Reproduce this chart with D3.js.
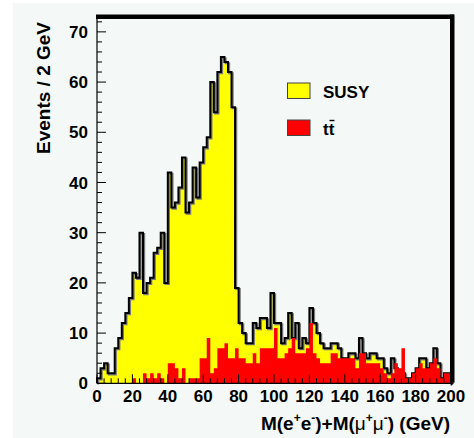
<!DOCTYPE html>
<html>
<head>
<meta charset="utf-8">
<script src="https://cdn.jsdelivr.net/npm/d3@7"></script>
<style>
  html, body { margin: 0; padding: 0; background: #ffffff; }
  svg { display: block; }
  text { font-family: "Liberation Sans", Arial, sans-serif; font-weight: bold; fill: #000; }
</style>
</head>
<body>
<svg id="chart" width="474" height="438"></svg>
<script>
// Dilepton invariant mass, 2 GeV bins from 0 to 200 GeV
const binWidth = 2;
const susyCounts = [
  1, 3, 4, 2, 2, 7, 9, 12, 14, 17,
  22, 21, 30, 18, 20, 21, 26, 27, 30, 20,
  42, 35, 36, 39, 45, 34, 36, 43, 37, 44,
  47, 49, 60, 54, 62, 65, 64, 62, 55, 19,
  12, 10, 8, 8, 12, 11, 13, 13, 11, 18,
  12, 12, 8, 9, 14, 9, 12, 7, 9, 8,
  15, 12, 10, 8, 7, 7, 8, 8, 7, 5,
  5, 6, 6, 5, 9, 6, 5, 6, 6, 5,
  5, 3, 2, 5, 3, 2, 2, 1, 1, 2,
  3, 5, 5, 3, 4, 7, 4, 1, 2, 2
];
const ttbarCounts = [
  0, 0, 0, 0, 0, 0, 0, 0, 0, 0,
  1, 0, 0, 2, 1, 2, 1, 2, 1, 0,
  4, 4, 3, 1, 3, 0, 1, 1, 1, 5,
  5, 9, 2, 3, 7, 7, 8, 5, 5, 7,
  5, 5, 4, 4, 6, 4, 7, 7, 7, 7,
  11, 5, 5, 6, 7, 9, 6, 6, 6, 7,
  12, 6, 5, 4, 4, 4, 6, 6, 5, 5,
  5, 5, 5, 3, 6, 6, 4, 4, 4, 4,
  3, 2, 1, 2, 4, 3, 7, 1, 1, 2,
  3, 4, 3, 3, 4, 5, 3, 1, 2, 2
];
const xTicks = [0, 20, 40, 60, 80, 100, 120, 140, 160, 180, 200];
const yTicks = [0, 10, 20, 30, 40, 50, 60, 70];
const legendLabels = ["SUSY", "tt"];

const svg = d3.select("#chart");
const x = d3.scaleLinear().domain([0, 200]).range([97, 451]);
const y = d3.scaleLinear().domain([0, 73]).range([383.3, 16.8]);

// canvas fill
svg.append("rect").attr("x", 13).attr("y", 3).attr("width", 461).attr("height", 435)
  .attr("fill", "#f4f9f7");

// step outline points for a histogram
function steps(counts) {
  const pts = [[0, 0]];
  counts.forEach((v, i) => { pts.push([i * binWidth, v]); pts.push([(i + 1) * binWidth, v]); });
  pts.push([counts.length * binWidth, 0]);
  return pts;
}
const area = d3.area().x(d => x(d[0])).y0(y(0)).y1(d => y(d[1]));
const line = d3.line().x(d => x(d[0])).y(d => y(d[1]));

const susyPts = steps(susyCounts);
const ttPts = steps(ttbarCounts);

svg.append("path").attr("d", area(susyPts)).attr("fill", "#ffff00");
svg.append("path").attr("d", line(susyPts)).attr("fill", "none")
  .attr("stroke", "#7a7a7a").attr("stroke-width", 2).attr("transform", "translate(1.2,1.2)");
svg.append("path").attr("d", line(susyPts)).attr("fill", "none")
  .attr("stroke", "#000").attr("stroke-width", 2);
svg.append("path").attr("d", area(ttPts)).attr("fill", "#ff0000");

// axes, ticks drawn inward
const gx = svg.append("g").attr("transform", `translate(0,${y(0)})`);
gx.append("line").attr("x1", x(0)).attr("x2", x(200)).attr("stroke", "#000").attr("stroke-width", 1.2);
gx.selectAll("line.tick").data(d3.range(0, 201, 4)).join("line")
  .attr("x1", d => x(d)).attr("x2", d => x(d))
  .attr("y1", 0).attr("y2", d => d % 20 === 0 ? -9 : -5)
  .attr("stroke", "#000").attr("stroke-width", 1);
gx.selectAll("text").data(xTicks).join("text")
  .attr("x", d => x(d)).attr("y", 18.5).attr("text-anchor", "middle")
  .attr("font-size", 17).text(d => d);

const gy = svg.append("g").attr("transform", `translate(${x(0)},0)`);
gy.append("line").attr("y1", y(0)).attr("y2", 15).attr("stroke", "#000").attr("stroke-width", 1.2);
gy.selectAll("line.tick").data(d3.range(0, 73, 2)).join("line")
  .attr("y1", d => y(d)).attr("y2", d => y(d))
  .attr("x1", 0).attr("x2", d => d % 10 === 0 ? 9 : 5)
  .attr("stroke", "#000").attr("stroke-width", 1);
gy.selectAll("text").data(yTicks).join("text")
  .attr("x", -9).attr("y", d => y(d)).attr("dy", "0.36em").attr("text-anchor", "end")
  .attr("font-size", 17).text(d => d);

// frame: thick top and right edges
svg.append("rect").attr("x", 96).attr("y", 14.5).attr("width", 358).attr("height", 4.5).attr("fill", "#000");
svg.append("rect").attr("x", 450).attr("y", 14.5).attr("width", 4.5).attr("height", 368).attr("fill", "#000");
svg.append("path").attr("d", "M450,382.5 L454.5,382.5 L451,386 Z").attr("fill", "#000");

// axis titles
svg.append("text").attr("transform", "translate(50,22) rotate(-90)")
  .attr("text-anchor", "end").attr("font-size", 19).text("Events / 2 GeV");

const xt = svg.append("text").attr("x", 450).attr("y", 430).attr("text-anchor", "end").attr("font-size", 19);
xt.append("tspan").text("M(e");
xt.append("tspan").attr("font-size", 12).attr("dy", -8).text("+");
xt.append("tspan").attr("dy", 8).text("e");
xt.append("tspan").attr("font-size", 12).attr("dy", -8).text("-");
xt.append("tspan").attr("dy", 8).text(")+M(");
xt.append("tspan").attr("font-weight", "normal").text("μ");
xt.append("tspan").attr("font-size", 12).attr("dy", -8).text("+");
xt.append("tspan").attr("dy", 8).attr("font-weight", "normal").text("μ");
xt.append("tspan").attr("font-size", 12).attr("dy", -8).text("-");
xt.append("tspan").attr("dy", 8).text(") (GeV)");

// legend
const legendColors = ["#ffff00", "#ff0000"];
const lg = svg.append("g");
legendLabels.forEach((lab, i) => {
  const ly = 83 + i * 37;
  lg.append("rect").attr("x", 287.5).attr("y", ly).attr("width", 22.5).attr("height", 15.5)
    .attr("fill", legendColors[i]).attr("stroke", "#444").attr("stroke-width", 1);
  const t = lg.append("text").attr("x", 323).attr("y", ly + 15).attr("font-size", 17);
  t.text(lab);
  if (i === 1) {
    // bar over the second t
    lg.append("line").attr("x1", 329.5).attr("x2", 334.5).attr("y1", ly + 0.5).attr("y2", ly + 0.5)
      .attr("stroke", "#000").attr("stroke-width", 1.4);
  }
});
</script>
</body>
</html>
